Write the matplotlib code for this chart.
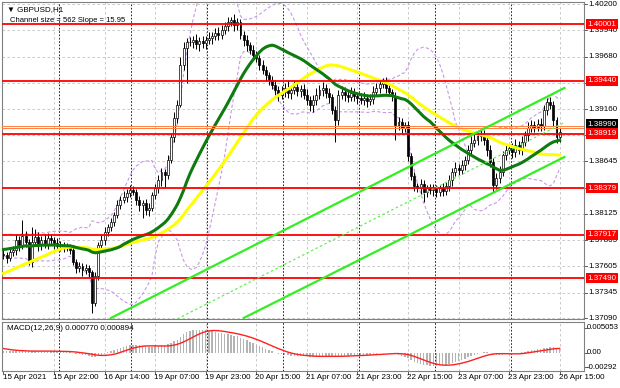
import numpy as np
import pandas as pd
import matplotlib
matplotlib.use("Agg")
import matplotlib.pyplot as plt
import matplotlib.transforms as mtrans

plt.rcParams['font.family'] = ['Liberation Sans', 'DejaVu Sans']

# hourly closes before the visible window (only used to warm up the indicators)
prior_closes = [1.3703, 1.3707, 1.3705, 1.3711, 1.3716, 1.3713, 1.3719, 1.3715, 1.3710, 1.3714,
                1.3720, 1.3717, 1.3723, 1.3719, 1.3715, 1.3712, 1.3718, 1.3722, 1.3727, 1.3724,
                1.3755, 1.3760, 1.3758, 1.3764, 1.3769, 1.3766, 1.3772, 1.3770, 1.3775, 1.3779,
                1.3776, 1.3781, 1.3778, 1.3784, 1.3788, 1.3785, 1.3781, 1.3786, 1.3790, 1.3787,
                1.3783, 1.3779, 1.3784, 1.3788, 1.3782, 1.3778, 1.3775, 1.3780, 1.3776, 1.3773]

# visible GBPUSD H1 closes, 15 Apr 06:00 .. 26 Apr 15:00
closes = [1.3772, 1.3769, 1.3775, 1.3777, 1.3787, 1.3782, 1.3791, 1.3785, 1.3765, 1.3785,
          1.3790, 1.3782, 1.3787, 1.3783, 1.3789, 1.3787, 1.3784, 1.3781, 1.3782, 1.3779,
          1.3780, 1.3777, 1.3765, 1.3759, 1.3761, 1.3757, 1.3759, 1.3755, 1.3724, 1.3751,
          1.3782, 1.3787, 1.3795, 1.3799, 1.3804, 1.3811, 1.3821, 1.3826, 1.3829, 1.3833,
          1.3836, 1.3834, 1.3826, 1.3821, 1.3823, 1.3816, 1.3818, 1.3831, 1.3838, 1.3846,
          1.3854, 1.3851, 1.3866, 1.3888, 1.3907, 1.3920, 1.3960, 1.3977, 1.3982, 1.3982,
          1.3984, 1.3980, 1.3983, 1.3981, 1.3984, 1.3986, 1.3988, 1.3991, 1.3989, 1.3994,
          1.3998, 1.4002, 1.4004, 1.3999, 1.4002, 1.3989, 1.3984, 1.3979, 1.3975, 1.3970,
          1.3967, 1.3960, 1.3955, 1.3950, 1.3945, 1.3940, 1.3935, 1.3930, 1.3933, 1.3937,
          1.3932, 1.3935, 1.3938, 1.3934, 1.3936, 1.3930, 1.3925, 1.3920, 1.3925, 1.3930,
          1.3935, 1.3937, 1.3932, 1.3928, 1.3915, 1.3905, 1.3930, 1.3933, 1.3930, 1.3928,
          1.3932, 1.3929, 1.3927, 1.3925, 1.3927, 1.3924, 1.3926, 1.3933, 1.3937, 1.3941,
          1.3943, 1.3937, 1.3933, 1.3929, 1.3900, 1.3903, 1.3897, 1.3900, 1.3870, 1.3850,
          1.3840, 1.3838, 1.3842, 1.3834, 1.3838, 1.3836, 1.3837, 1.3834, 1.3838, 1.3835,
          1.3840, 1.3846, 1.3854, 1.3858, 1.3856, 1.3861, 1.3866, 1.3876, 1.3883, 1.3886,
          1.3889, 1.3890, 1.3886, 1.3876, 1.3864, 1.3841, 1.3848, 1.3854, 1.3871, 1.3876,
          1.3878, 1.3874, 1.3881, 1.3876, 1.3884, 1.3890, 1.3897, 1.3900, 1.3898, 1.3901,
          1.3899, 1.3915, 1.3923, 1.3920, 1.3905, 1.3888, 1.3893]

# wick lengths above / below the body, in pips
up_wick = [4, 3, 5, 4, 6, 4, 15, 5, 3, 14, 8, 5, 4, 6, 5, 4, 3, 5, 4, 3,
           4, 3, 5, 3, 4, 3, 4, 3, 2, 4, 3, 5, 4, 3, 4, 3, 5, 4, 6, 4,
           5, 4, 3, 4, 3, 4, 5, 3, 4, 5, 4, 3, 5, 4, 6, 5, 8, 5, 4, 5,
           4, 6, 4, 5, 4, 6, 4, 5, 6, 5, 4, 5, 3, 6, 4, 3, 4, 5, 3, 4,
           4, 3, 5, 4, 3, 4, 5, 4, 6, 5, 8, 4, 6, 5, 4, 5, 6, 4, 5, 7,
           5, 6, 4, 5, 3, 4, 5, 6, 5, 4, 6, 5, 4, 5, 6, 4, 5, 6, 5, 4,
           4, 5, 4, 3, 4, 5, 4, 3, 4, 3, 4, 3, 5, 4, 3, 4, 5, 4, 3, 5,
           4, 5, 4, 6, 4, 5, 4, 5, 6, 5, 4, 6, 5, 4, 5, 4, 5, 6, 4, 5,
           4, 5, 6, 4, 5, 4, 6, 5, 4, 5, 6, 5, 4, 5, 4, 3, 4]
dn_wick = [4, 5, 3, 4, 5, 6, 4, 5, 3, 5, 4, 6, 5, 4, 5, 4, 6, 3, 5, 4,
           3, 4, 3, 5, 4, 6, 4, 5, 10, 3, 4, 3, 5, 4, 3, 4, 3, 4, 3, 5,
           4, 3, 5, 6, 13, 5, 6, 3, 4, 5, 6, 13, 4, 3, 4, 5, 2, 5, 35, 4,
           5, 4, 6, 4, 5, 4, 6, 4, 5, 4, 4, 5, 4, 6, 5, 4, 6, 5, 4, 5,
           4, 5, 4, 6, 5, 4, 5, 6, 4, 5, 5, 6, 4, 5, 6, 4, 5, 6, 7, 5,
           4, 6, 5, 6, 4, 21, 5, 4, 6, 5, 4, 5, 6, 4, 5, 6, 4, 5, 4, 5,
           4, 5, 4, 5, 14, 5, 6, 4, 5, 4, 5, 4, 6, 10, 5, 4, 6, 5, 4, 5,
           4, 5, 6, 4, 5, 4, 5, 4, 5, 4, 5, 4, 5, 6, 5, 7, 4, 5, 4, 5,
           4, 6, 5, 4, 5, 4, 5, 4, 5, 4, 5, 4, 5, 4, 6, 5, 4]

levels = [1.40001, 1.39440, 1.38919, 1.38379, 1.37917, 1.37490]
bid = 1.38990
price_ticks = [1.40200, 1.39940, 1.39680, 1.39420, 1.39160, 1.38900, 1.38645,
               1.38385, 1.38125, 1.37865, 1.37605, 1.37345, 1.37090]
time_labels = ["15 Apr 2021", "15 Apr 22:00", "16 Apr 14:00", "19 Apr 07:00",
               "19 Apr 23:00", "20 Apr 15:00", "21 Apr 07:00", "21 Apr 23:00",
               "22 Apr 15:00", "23 Apr 07:00", "23 Apr 23:00", "26 Apr 15:00"]
time_bars = [0, 16, 32, 48, 64, 80, 96, 112, 128, 144, 160, 176]
day_bars = [18, 41, 65, 89, 113, 137, 161]
# channel anchors (bar index, price)
chan_upper = [(34.0, 1.37095), (177.5, 1.39370)]
chan_lower = [(76.0, 1.37095), (177.5, 1.38687)]
macd_ticks = [0.005053, 0.0, -0.00292]
macd_tick_labels = ["0.005053", "0.00", "-0.00292"]

pip = 0.0001
allc = pd.Series(prior_closes + closes)
n0 = len(prior_closes)
c = np.array(closes)
o = allc.shift(1).values[n0:]
hi = np.maximum(o, c) + np.array(up_wick) * pip
lo = np.minimum(o, c) - np.array(dn_wick) * pip
x = np.arange(len(c))

ma30 = allc.rolling(30).mean().values[n0:]
ma50 = allc.rolling(50).mean().values[n0:]
bbm = allc.rolling(20).mean()
bbs = allc.rolling(20).std(ddof=0)
bb_up = (bbm + 2 * bbs).values[n0:]
bb_dn = (bbm - 2 * bbs).values[n0:]
macd = allc.ewm(span=12, adjust=False).mean() - allc.ewm(span=26, adjust=False).mean()
signal = macd.rolling(9).mean()
macd = macd.values[n0:]
signal = signal.values[n0:]

W, H = 620, 388
fig = plt.figure(figsize=(W / 100, H / 100), dpi=100)
ax = fig.add_axes([2 / W, 1 - 319 / H, 582 / W, 317 / H])
ax2 = fig.add_axes([2 / W, 1 - 371 / H, 582 / W, 49 / H])
FS = 5.8

xl = (-0.47, 183.7)
grid_kw = dict(color='#c0c0c0', lw=0.6, ls=(0, (3, 3)), zorder=0)
for a in (ax, ax2):
    a.set_xlim(*xl)
    for b in time_bars[1:]:
        a.axvline(b, **grid_kw)
    for b in day_bars:
        a.axvline(b - 0.5, color='black', lw=0.6, ls=(0, (2, 2)), zorder=0.5)
    for s in a.spines.values():
        s.set_color('#808080')
        s.set_linewidth(0.8)
    a.set_xticks([])
    a.set_yticks([])

ax.set_ylim(1.37085, 1.40220)
for t in price_ticks:
    ax.axhline(t, **grid_kw)

# bollinger bands
ax.plot(x, bb_up, color='#c898e8', lw=0.8, ls=(0, (3, 2)), zorder=1)
ax.plot(x, bb_dn, color='#c898e8', lw=0.8, ls=(0, (3, 2)), zorder=1)

# candles
ax.vlines(x, lo, hi, color='black', lw=0.7, zorder=2)
body = np.abs(c - o)
body = np.where(body < 0.00004, 0.00004, body)
fills = np.where(c >= o, 'white', 'black')
ax.bar(x, body, bottom=np.minimum(o, c), width=0.62, color=fills,
       edgecolor='black', linewidth=0.5, zorder=2.2)

ax.plot(x, ma50, color='#ffff00', lw=2.2, zorder=3)
ax.plot(x, ma30, color='#0f7a0f', lw=2.2, zorder=3.1)

for lv in levels:
    ax.axhline(lv, color='#ff0000', lw=1.3, zorder=4)
ax.axhline(bid, color='#ff8040', lw=0.7, zorder=4)
ax.axhline(bid - 0.00015, color='#ff8040', lw=0.7, zorder=4)

# regression channel
ux, uy = zip(*chan_upper)
lx, ly = zip(*chan_lower)
ax.plot(ux, uy, color='#33ee22', lw=1.6, zorder=5)
ax.plot(lx, ly, color='#33ee22', lw=1.6, zorder=5)
mid_x = [ux[0] - (lx[0] - ux[0]), ux[1]]
slope = (uy[1] - uy[0]) / (ux[1] - ux[0])
mid_y1 = (uy[1] + ly[1]) / 2
mid_y0 = mid_y1 - slope * (ux[1] - mid_x[0])
ax.plot(mid_x, [mid_y0, mid_y1], color='#66ee55', lw=0.9, ls=(0, (2, 2)), zorder=5)

# price scale on the right
tr = mtrans.blended_transform_factory(ax.transAxes, ax.transData)
for t in price_ticks:
    ax.plot([1.0, 1.005], [t, t], transform=tr, color='#404040', lw=0.6, clip_on=False)
    ax.text(1.007, t, f"{t:.5f}", transform=tr, ha='left', va='center', fontsize=FS,
            zorder=8, clip_on=False)
for lv in levels:
    ax.text(1.006, lv, f"{lv:.5f}", transform=tr, ha='left', va='center', fontsize=FS,
            color='white', zorder=10, clip_on=False,
            bbox=dict(boxstyle='square,pad=0.2', fc='#ff0000', ec='none'))
ax.text(1.006, bid + 0.0002, f"{bid:.5f}", transform=tr, ha='left', va='center', fontsize=FS,
        color='white', zorder=9, clip_on=False,
        bbox=dict(boxstyle='square,pad=0.2', fc='black', ec='none'))

ax.text(0.008, 0.987, "\u25bc GBPUSD,H1", transform=ax.transAxes, fontsize=FS,
        va='top', ha='left', zorder=11)
ax.text(0.013, 0.952, "Channel size = 562 Slope = 15.95", transform=ax.transAxes,
        fontsize=5.5, va='top', ha='left', zorder=11)

# MACD
ax2.set_ylim(-0.00364, 0.00626)
ax2.bar(x, macd, width=0.45, color='#b4b4b4', zorder=1)
ax2.plot(x, signal, color='#ff2020', lw=1.0, zorder=2)
tr2 = mtrans.blended_transform_factory(ax2.transAxes, ax2.transData)
for t, lab in zip(macd_ticks, macd_tick_labels):
    ax2.plot([1.0, 1.005], [t, t], transform=tr2, color='#404040', lw=0.6, clip_on=False)
    ax2.text(1.005, t, lab, transform=tr2, ha='left', va='center', fontsize=5.6, clip_on=False)
ax2.text(0.008, 0.93, "MACD(12,26,9) 0.000770 0.000894", transform=ax2.transAxes,
         fontsize=FS, va='top', ha='left')

trx = mtrans.blended_transform_factory(ax2.transData, ax2.transAxes)
for b, lab in zip(time_bars, time_labels):
    ax2.text(b - 0.3, -0.06, lab, transform=trx, fontsize=FS, ha='left', va='top', clip_on=False)
    ax2.plot([b, b], [0, -0.06], transform=trx, color='#404040', lw=0.6, clip_on=False)

fig.savefig("out.png", dpi=100)
